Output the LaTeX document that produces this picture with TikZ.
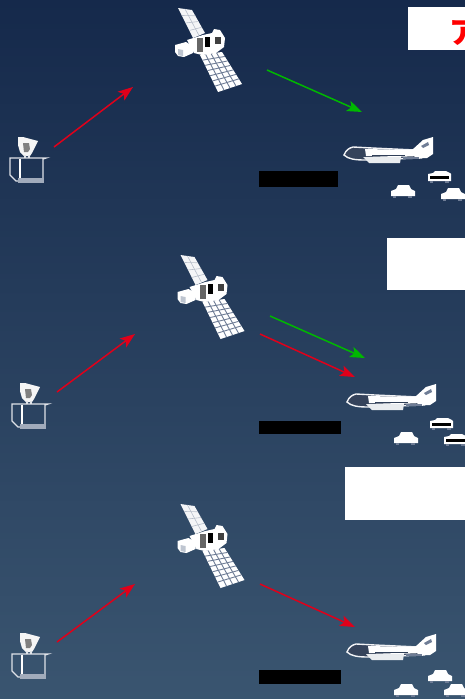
\documentclass[tikz,border=0pt]{standalone}
\usepackage{fontspec}
\newfontfamily\cjkfont{Noto Sans CJK JP}
\usetikzlibrary{arrows.meta,calc}
\definecolor{bgtop}{HTML}{15294B}
\definecolor{bgbot}{HTML}{3A5570}
\definecolor{gridc}{HTML}{6F7D96}
\definecolor{arrred}{HTML}{E0001A}
\definecolor{arrgreen}{HTML}{00B800}
\tikzset{
  x=1pt,y=-1pt,
  arrowline/.style={line width=1.5pt,-{Stealth[length=15pt,width=11pt,inset=3.5pt]}},
  redarrow/.style={arrowline,draw=arrred},
  greenarrow/.style={arrowline,draw=arrgreen},
  whitebox/.style={fill=white,draw=none},
  blackbox/.style={fill=black,draw=none},
  pics/satellite/.style={code={
    % upper panel
    \fill[white!92!gridc] (-30,-42) -- (-16,-40) -- (-3,-17) -- (-15,-12) -- cycle;
    \foreach \t in {.25,.5,.75}{
      \draw[gridc!50,line width=.6pt] ($(-30,-42)!\t!(-15,-12)$) -- ($(-16,-40)!\t!(-3,-17)$);
    }
    \draw[gridc!50,line width=.6pt] (-23,-41) -- (-9,-14.5);
    % lower panel
    \fill[white] (-8,5) -- (14,2) -- (34,34) -- (10,42) -- cycle;
    \foreach \t in {.14,.28,.42,.56,.7,.84}{
      \draw[gridc,line width=.9pt] ($(-8,5)!\t!(10,42)$) -- ($(14,2)!\t!(34,34)$);
    }
    \foreach \t in {.25,.5,.75}{
      \draw[gridc,line width=.9pt] ($(-8,5)!\t!(14,2)$) -- ($(10,42)!\t!(34,34)$);
    }
    % body
    \fill[white] (-21,-10) -- (-5,-15) -- (4,-17) -- (6,-21) -- (12,-20) -- (17,-12) -- (16,-3) -- (8,3) -- (-6,5) -- (-14,3) -- cycle;
    \fill[gray!80!black] (-11,-12) -- (-5,-12) -- (-5,2) -- (-11,2) -- cycle;
    \fill[black] (-3,-13) rectangle (2,-3);
    \fill[black!75] (7,-13) rectangle (13,-6);
    % dish
    \fill[white] (-33,-5) -- (-22,-8) -- (-15,-4) -- (-15,3) -- (-24,7) -- (-30,6) -- (-33,2) -- cycle;
    \fill[gridc!45] (-30,-1) -- (-25,0) -- (-25,6) -- (-30,5) -- cycle;
  }},
  pics/dish/.style={code={
    % head
    \fill[white!92!gray] (-9,-13) -- (-4,-13) -- (11,-9) -- (8,-3) -- (5,3) -- (3,6) -- (-3,6) -- (-7,2) -- (-9,-5) -- cycle;
    \fill[gray] (-4,-7) -- (2,-7) -- (3,-1) -- (1,2) -- (-3,2) -- cycle;
    % box
    \draw[white!78!gridc,line width=1.4pt] (-17,8) -- (-17,25) -- (-11,31) -- (16,31) -- (16,9) -- (19,8) -- cycle;
    \draw[white,line width=1.6pt] (-7,9) -- (-7,30);
    \fill[gridc!65!white] (-9,28) rectangle (17,33);
    \draw[white!80!gridc,line width=1.2pt] (-2,5) -- (-2,8) (2,5) -- (2,8);
  }},
  pics/plane/.style={code={
    % nose and hollow fuselage outline
    \draw[white!90!gridc,line width=1.4pt,fill=bgtop!70!gray] (-1,2) .. controls (1,-3) and (4,-5) .. (8,-6) -- (27,-5) -- (70,-3) -- (76,5) -- (20,7) .. controls (10,7) and (3,6) .. (-1,2) -- cycle;
    % white centre of fuselage
    \fill[white] (20,-4) -- (70,-3) -- (74,3) -- (50,4) -- (21,3) -- cycle;
    % wing
    \fill[white!85!gridc] (18,4) -- (56,4) -- (55,10) -- (24,10) -- cycle;
    % tail
    \fill[white] (67,-3) -- (78,-13) -- (88,-16) -- (88,1) -- (82,5) -- (70,5) -- cycle;
    \fill[gridc] (76,-7) -- (83,-11) -- (84,-8) -- (78,-5) -- cycle;
    % dark details
    \draw[bgtop!75!gray,line width=.9pt] (27,2) -- (60,2);
    \fill[gridc] (58,3.5) rectangle (74,6);
  }},
  pics/car/.style={code={
    \fill[white] (0,6) -- (5,4) -- (7,0) -- (18,0) -- (20,4) -- (24,6) -- (24,11) -- (0,11) -- cycle;
    \fill[gridc] (2,11) rectangle (5,13);
    \fill[gridc] (17,11) rectangle (21,13);
  }},
  pics/bcar/.style={code={
    \fill[white] (0,3) -- (5,2) -- (7,0) -- (18,0) -- (22,2) -- (23,3) -- (23,10) -- (0,10) -- cycle;
    \fill[black] (2,4.5) rectangle (21,7.5);
    \fill[gridc] (2,10) rectangle (5,12);
    \fill[gridc] (17,10) rectangle (21,12);
  }},
}
\begin{document}
\begin{tikzpicture}
\useasboundingbox (0,0) rectangle (465,699);
\shade[top color=bgtop,bottom color=bgbot] (0,0) rectangle (465,699);
\clip (0,0) rectangle (465,699);

% label boxes
\path[whitebox] (408,7) rectangle (470,50);
\path[whitebox] (387,238) rectangle (470,290);
\path[whitebox] (345,467) rectangle (470,520);
\node[anchor=west,inner sep=0pt,text=red,font=\cjkfont\bfseries\fontsize{30pt}{30pt}\selectfont] (title) at (449,33) {ア};

\path[blackbox] (259,171) rectangle (338,187);
\path[blackbox] (259,421) rectangle (341,434);
\path[blackbox] (259,670) rectangle (341,684);

% scene 1
\pic (sa) at (208,50) {satellite};
\pic (da) at (27,150) {dish};
\pic (pa) at (345,153) {plane};
\pic at (391,185) {car};
\pic at (428,171) {bcar};
\pic at (441,188) {car};
\coordinate (a1) at (54,147); \coordinate (a2) at (133,87);
\coordinate (a3) at (267,70); \coordinate (a4) at (362,112);
\draw[redarrow] (a1) -- (a2);
\draw[greenarrow] (a3) -- (a4);

% scene 2
\pic (sb) at (210.5,297) {satellite};
\pic (db) at (29,396) {dish};
\pic (pb) at (348,400) {plane};
\pic at (394,432) {car};
\pic at (430,418) {bcar};
\pic at (444,434) {bcar};
\coordinate (b1) at (57,392); \coordinate (b2) at (135,334);
\coordinate (b3) at (270,316); \coordinate (b4) at (365,358);
\coordinate (b5) at (260,334); \coordinate (b6) at (355,377);
\draw[redarrow] (b1) -- (b2);
\draw[greenarrow] (b3) -- (b4);
\draw[redarrow] (b5) -- (b6);

% scene 3
\pic (sc) at (210.5,546) {satellite};
\pic (dc) at (29,646) {dish};
\pic (pc) at (348,650) {plane};
\pic at (394,684) {car};
\pic at (428,670) {car};
\pic at (444,684) {car};
\coordinate (c1) at (57,642); \coordinate (c2) at (135,584);
\coordinate (c5) at (260,584); \coordinate (c6) at (355,627);
\draw[redarrow] (c1) -- (c2);
\draw[redarrow] (c5) -- (c6);
\end{tikzpicture}
\end{document}
